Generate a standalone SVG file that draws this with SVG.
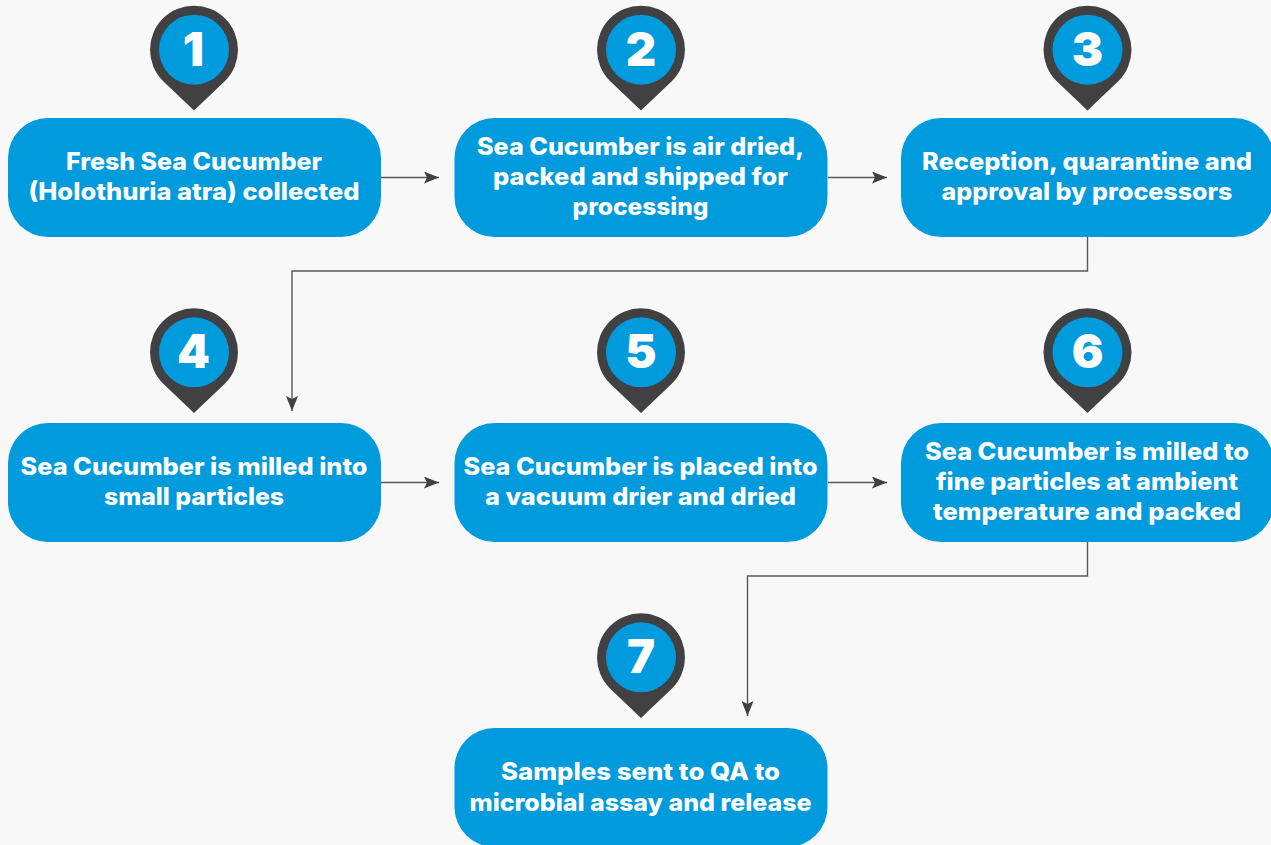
<svg xmlns="http://www.w3.org/2000/svg" width="1271" height="845" viewBox="0 0 1271 845">
<style>
.box{fill:#009bdd}
.pin{fill:#414042}
.disc{fill:#009bdd}
.lbl{font-family:"Inter","Liberation Sans",sans-serif;font-weight:800;font-size:24px;fill:#fff;text-anchor:middle}
.num{font-family:"Inter","Liberation Sans",sans-serif;font-weight:900;font-size:47px;fill:#fff;text-anchor:middle}
.conn{fill:none;stroke:#58585a;stroke-width:1.4;marker-end:url(#a)}
</style>
<defs>
<marker id="a" markerUnits="userSpaceOnUse" markerWidth="16" markerHeight="12" refX="15" refY="6" orient="auto"><path d="M0 0L15 6L0 12L3 6Z" fill="#414042"/></marker>
<path id="p" d="M-31 31.200A44 44 0 1 1 31 31.200L0 60.800Z"/>
</defs>
<rect width="1271" height="845" fill="#f8f8f8"/>
<g id="connectors">
<path class="conn" d="M381 177.500H439"/>
<path class="conn" d="M828 177.500H887"/>
<path class="conn" d="M1087.500 237V271H292V411"/>
<path class="conn" d="M381 482.500H439"/>
<path class="conn" d="M828 482.500H887"/>
<path class="conn" d="M1087.500 542V576H747.500V716"/>
</g>
<g id="node1"><rect class="box" x="8" y="118" width="373" height="119" rx="40"/><use href="#p" class="pin" x="194" y="49.700"/><circle class="disc" cx="194" cy="49.700" r="35"/><text class="num" x="193.500" y="65.500">1</text><text class="lbl" x="194" y="170" textLength="256" lengthAdjust="spacingAndGlyphs">Fresh Sea Cucumber</text><text class="lbl" x="194" y="200" textLength="331" lengthAdjust="spacingAndGlyphs">(Holothuria atra) collected</text></g>
<g id="node2"><rect class="box" x="454.500" y="118" width="373" height="119" rx="40"/><use href="#p" class="pin" x="641" y="49.700"/><circle class="disc" cx="641" cy="49.700" r="35"/><text class="num" x="641" y="65.500">2</text><text class="lbl" x="640.500" y="155" textLength="327" lengthAdjust="spacingAndGlyphs">Sea Cucumber is air dried,</text><text class="lbl" x="640.500" y="185" textLength="295" lengthAdjust="spacingAndGlyphs">packed and shipped for</text><text class="lbl" x="640.500" y="215" textLength="136" lengthAdjust="spacingAndGlyphs">processing</text></g>
<g id="node3"><rect class="box" x="901" y="118" width="373" height="119" rx="40"/><use href="#p" class="pin" x="1087.500" y="49.700"/><circle class="disc" cx="1087.500" cy="49.700" r="35"/><text class="num" x="1087.500" y="65.500">3</text><text class="lbl" x="1087" y="170" textLength="330" lengthAdjust="spacingAndGlyphs">Reception, quarantine and</text><text class="lbl" x="1087" y="200" textLength="291" lengthAdjust="spacingAndGlyphs">approval by processors</text></g>
<g id="node4"><rect class="box" x="8" y="423" width="373" height="119" rx="40"/><use href="#p" class="pin" x="194" y="352.300"/><circle class="disc" cx="194" cy="352.300" r="35"/><text class="num" x="193.500" y="368">4</text><text class="lbl" x="194" y="475" textLength="347" lengthAdjust="spacingAndGlyphs">Sea Cucumber is milled into</text><text class="lbl" x="194" y="505" textLength="180" lengthAdjust="spacingAndGlyphs">small particles</text></g>
<g id="node5"><rect class="box" x="454.500" y="423" width="373" height="119" rx="40"/><use href="#p" class="pin" x="641" y="352.300"/><circle class="disc" cx="641" cy="352.300" r="35"/><text class="num" x="641" y="368">5</text><text class="lbl" x="640.500" y="475" textLength="354" lengthAdjust="spacingAndGlyphs">Sea Cucumber is placed into</text><text class="lbl" x="640.500" y="505" textLength="311" lengthAdjust="spacingAndGlyphs">a vacuum drier and dried</text></g>
<g id="node6"><rect class="box" x="901" y="423" width="373" height="119" rx="40"/><use href="#p" class="pin" x="1087.500" y="352.300"/><circle class="disc" cx="1087.500" cy="352.300" r="35"/><text class="num" x="1087.500" y="368">6</text><text class="lbl" x="1087" y="460" textLength="324" lengthAdjust="spacingAndGlyphs">Sea Cucumber is milled to</text><text class="lbl" x="1087" y="490" textLength="302" lengthAdjust="spacingAndGlyphs">fine particles at ambient</text><text class="lbl" x="1087" y="520" textLength="308" lengthAdjust="spacingAndGlyphs">temperature and packed</text></g>
<g id="node7"><rect class="box" x="454.500" y="728" width="373" height="119" rx="40"/><use href="#p" class="pin" x="641" y="657.300"/><circle class="disc" cx="641" cy="657.300" r="35"/><text class="num" x="641" y="673">7</text><text class="lbl" x="640.500" y="780" textLength="279" lengthAdjust="spacingAndGlyphs">Samples sent to QA to</text><text class="lbl" x="640.500" y="811" textLength="342" lengthAdjust="spacingAndGlyphs">microbial assay and release</text></g>
</svg>
